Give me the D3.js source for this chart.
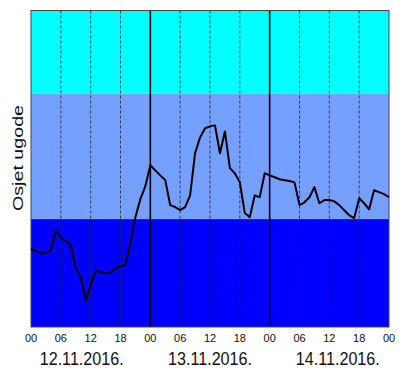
<!DOCTYPE html>
<html><head><meta charset="utf-8">
<script src="https://cdn.jsdelivr.net/npm/d3@7"></script>
<style>body{margin:0;background:#fff}svg{display:block}</style>
</head><body>
<svg id="c" width="404" height="375"></svg>
<script>
// hourly comfort index values, 12.11.2016 00h -> 15.11.2016 00h
const hours = d3.range(0, 73);
const values = [
 24.6,24.0,23.3,23.3,24.3,30.3,28.4,27.1,25.9,18.6,15.8,8.5,13.2,17.7,17.4,17.0,17.0,18.6,19.2,19.6,26.5,34.7,40.4,44.5,
 51.1,49.5,47.9,46.4,38.5,37.9,36.9,37.9,41.6,54.9,59.9,62.8,63.4,63.7,54.9,61.8,50.2,48.6,45.7,36.0,34.7,41.6,41.0,48.6,
 47.9,47.3,46.7,46.4,46.1,45.7,38.5,39.4,41.0,44.2,39.1,40.1,40.1,39.7,38.5,36.9,35.3,34.4,40.7,39.1,37.2,43.2,42.6,42.0,41.0
];
const bandLimits = [0, 34.1, 73.8, 100];
const bandColors = ["#0000ff", "#76a0ff", "#00ffff"];
const tickHours = d3.range(0, 73, 6);
const tickLabels = ["00","06","12","18","00","06","12","18","00","06","12","18","00"];
const dayLabels = ["12.11.2016.", "13.11.2016.", "14.11.2016."];
const dayLabelHours = [10.2, 36, 61.7];
const yLabel = "Osjet ugode";

const svg = d3.select("#c");
const L = 31, R = 389, T = 10.5, B = 327;
const x = d3.scaleLinear().domain([0, 72]).range([L, R]);
const y = d3.scaleLinear().domain([0, 100]).range([B, T]);

// bands
svg.append("g").selectAll("rect").data(bandColors).join("rect")
  .attr("x", L).attr("width", R - L)
  .attr("y", (d, i) => y(bandLimits[i + 1]))
  .attr("height", (d, i) => y(bandLimits[i]) - y(bandLimits[i + 1]))
  .attr("fill", d => d);

// vertical grid
svg.append("g").selectAll("line").data(tickHours.filter(h => h > 0 && h < 72)).join("line")
  .attr("x1", d => x(d)).attr("x2", d => x(d))
  .attr("y1", T).attr("y2", B)
  .attr("stroke", d => d % 24 === 0 ? "#000" : "#222")
  .attr("stroke-width", d => d % 24 === 0 ? 1.6 : 0.8)
  .attr("stroke-dasharray", d => d % 24 === 0 ? null : "3,2");

// frame
svg.append("rect").attr("x", L).attr("y", T).attr("width", R - L).attr("height", B - T)
  .attr("fill", "none").attr("stroke", "#444").attr("stroke-width", 1);

// line
svg.append("path").datum(hours)
  .attr("fill", "none").attr("stroke", "#000").attr("stroke-width", 2)
  .attr("stroke-linejoin", "round")
  .attr("d", d3.line().x(h => x(h)).y(h => y(values[h])));

// x axis labels
svg.append("g").selectAll("text").data(tickHours).join("text")
  .attr("x", d => x(d)).attr("y", 342)
  .attr("text-anchor", "middle")
  .attr("font-family", "Liberation Sans, Arial, sans-serif")
  .attr("font-size", 11).attr("fill", "#111")
  .text((d, i) => tickLabels[i]);

svg.append("g").selectAll("text").data(dayLabels).join("text")
  .attr("x", (d, i) => x(dayLabelHours[i])).attr("y", 365)
  .attr("text-anchor", "middle")
  .attr("font-family", "Liberation Sans, Arial, sans-serif")
  .attr("font-size", 19).attr("fill", "#111")
  .attr("textLength", 84).attr("lengthAdjust", "spacingAndGlyphs")
  .text(d => d);

// y label
svg.append("text")
  .attr("transform", "translate(23,158) rotate(-90)")
  .attr("text-anchor", "middle")
  .attr("font-family", "Liberation Sans, Arial, sans-serif")
  .attr("font-size", 15).attr("fill", "#111")
  .attr("textLength", 106).attr("lengthAdjust", "spacingAndGlyphs")
  .text(yLabel);
</script>
</body></html>
